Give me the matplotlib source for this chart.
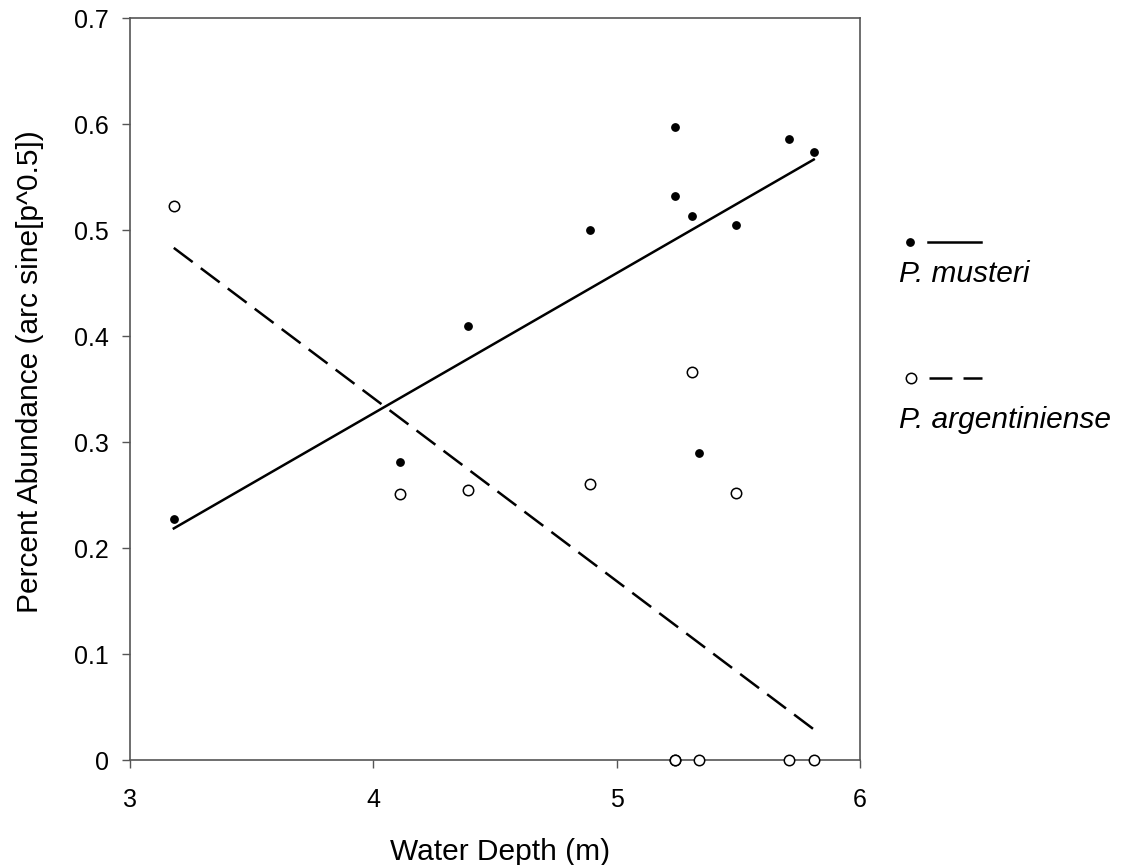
import numpy as np
from matplotlib import pyplot as plt
from matplotlib.lines import Line2D

plt.rcParams['font.family'] = ['Liberation Sans', 'DejaVu Sans']
plt.rcParams['lines.scale_dashes'] = False

# P. musteri (filled circles)
musteri_depth = [3.18, 4.11, 4.39, 4.89, 5.24, 5.24, 5.31, 5.34, 5.49, 5.71, 5.81]
musteri_abund = [0.227, 0.281, 0.409, 0.500, 0.597, 0.532, 0.513, 0.290, 0.505, 0.586, 0.574]

# P. argentiniense (open circles); two zeros sit on top of each other at 5.24
argent_depth = [3.18, 4.11, 4.39, 4.89, 5.31, 5.49, 5.24, 5.24, 5.34, 5.71, 5.81]
argent_abund = [0.523, 0.251, 0.255, 0.260, 0.366, 0.252, 0.0, 0.0, 0.0, 0.0, 0.0]

W, H = 1128, 865
fig = plt.figure(figsize=(W / 100, H / 100), dpi=100)
ax = fig.add_axes([130 / W, 1 - 760 / H, (860 - 130) / W, (760 - 18) / H])

for xs, ys, style, filled in [(musteri_depth, musteri_abund, '-', True),
                              (argent_depth, argent_abund, '--', False)]:
    xs = np.array(xs)
    ys = np.array(ys)
    slope, icpt = np.polyfit(xs, ys, 1)
    xf = np.array([xs.min(), xs.max()])
    ln, = ax.plot(xf, icpt + slope * xf, color='black', lw=1.8, ls=style)
    if style == '--':
        ln.set_dashes((17, 7.3))
    if filled:
        ax.plot(xs, ys, 'o', color='black', ms=5.3, clip_on=False, zorder=3)
    else:
        ax.plot(xs, ys, 'o', mfc='white', mec='black', ms=7.5, mew=1.1,
                clip_on=False, zorder=3)

ax.set_xlim(3, 6)
ax.set_ylim(0, 0.7)
ax.set_xticks([3, 4, 5, 6])
ax.set_yticks(np.arange(0, 0.71, 0.1))
ax.set_yticklabels(['0', '0.1', '0.2', '0.3', '0.4', '0.5', '0.6', '0.7'])
ax.tick_params(direction='out', length=6, width=1, color='#555555',
               labelsize=18)
ax.tick_params(axis='x', pad=14)
ax.tick_params(axis='y', pad=9)
for s in ax.spines.values():
    s.set_color('#555555')
    s.set_linewidth(1.2)

ax.set_xlabel('Water Depth (m)', fontsize=21.5)
ax.set_ylabel('Percent Abundance (arc sine[p^0.5])', fontsize=21.5)
ax.xaxis.set_label_coords(0.507, -0.105)
ax.yaxis.set_label_coords(-0.118, 0.523)


def fx(x, y):
    return x / W, 1 - y / H


# legend drawn beside the axes: symbol and line, species name underneath
fig.add_artist(Line2D(*zip(fx(910, 242)), marker='o', color='black', ms=5.3,
                      ls='none', transform=fig.transFigure))
fig.add_artist(Line2D(*zip(fx(928, 242), fx(981, 242)), color='black', lw=1.8,
                      transform=fig.transFigure))
fig.text(*fx(899, 282), 'P. musteri', fontsize=21.5, style='italic',
         ha='left', va='baseline')

fig.add_artist(Line2D(*zip(fx(911, 378)), marker='o', mfc='white', mec='black',
                      ms=7.5, mew=1.1, ls='none', transform=fig.transFigure))
leg_dash = Line2D(*zip(fx(929, 378), fx(982, 378)), color='black', lw=1.8,
                  transform=fig.transFigure)
leg_dash.set_dashes((16.5, 8))
fig.add_artist(leg_dash)
fig.text(*fx(899, 428), 'P. argentiniense', fontsize=21.5, style='italic',
         ha='left', va='baseline')

fig.savefig('out.png', dpi=100)
